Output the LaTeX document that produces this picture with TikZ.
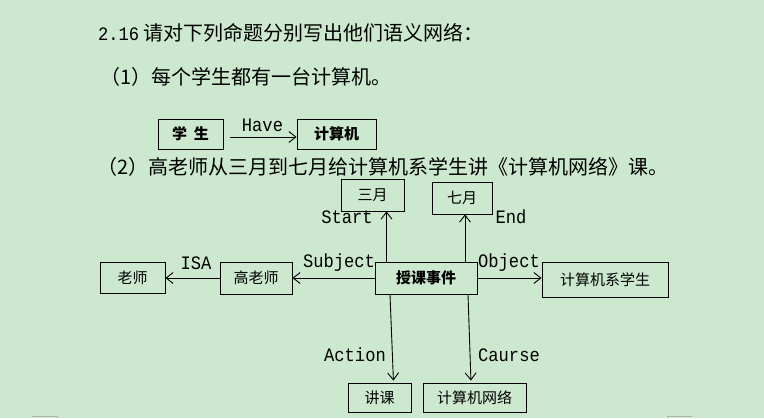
\documentclass[tikz,border=0pt]{standalone}
\usepackage{fontspec}
\setmainfont{Noto Sans CJK SC}
\newfontfamily\mono{Liberation Mono}
\usetikzlibrary{arrows.meta}
\definecolor{paper}{RGB}{204,232,207}
\newcommand{\narrow}[1]{\scalebox{0.9}[1]{#1}}

\begin{document}
\begin{tikzpicture}[x=1pt, y=-1pt,
        box/.style={rectangle, draw=black, line width=0.9pt, minimum height=30pt, inner sep=0pt, font=\fontsize{15}{15}\selectfont},
        boldbox/.style={box, font=\fontsize{15}{15}\selectfont\bfseries},
        rel/.style={font=\mono\fontsize{19}{19}\selectfont, inner sep=0pt},
        link/.style={-{Straight Barb[length=7pt,width=11pt]}, line width=0.9pt},
        textline/.style={font=\fontsize{20}{20}\selectfont, anchor=west, inner sep=0pt}
    ]
        % Page background
        \fill[paper] (0,0) rectangle (764,418);
        \draw[gray!60] (32,416) -- (57,416) -- (57,418);
        \draw[gray!60] (692,416) -- (667,416) -- (667,418);

        % Title and question (1)
        \node[textline] (title) at (98,33) {{\mono\fontsize{19}{19}\selectfont\narrow{2.16}} 请对下列命题分别写出他们语义网络：};
        \node[textline] (q1) at (100,77) {（1）每个学生都有一台计算机。};

        \node[boldbox, minimum width=65pt] (xuesheng) at (190.5,134) {学\hspace{7pt}生};
        \node[boldbox, minimum width=79pt] (jisuanji) at (336.5,134) {计算机};
        \draw[link, shorten <=7pt] ([yshift=-3pt]xuesheng.east) -- ([yshift=-3pt]jisuanji.west);
        \node[rel] (have) at (262.5,125) {\narrow{Have}};

        % Question (2)
        \node[textline] (q2) at (97,167) {（2）高老师从三月到七月给计算机系学生讲《计算机网络》课。};

        \node[box, minimum width=63pt, minimum height=32pt] (sanyue) at (372.5,195) {三月};
        \node[box, minimum width=60pt, minimum height=32pt] (qiyue) at (462,198) {七月};
        \node[box, minimum width=65pt, minimum height=31pt] (laoshi) at (132.5,278) {老师};
        \node[box, minimum width=72pt, minimum height=32pt] (gao) at (256,278) {高老师};
        \node[boldbox, minimum width=102pt, minimum height=32pt] (shouke) at (426,278) {授课事件};
        \node[box, minimum width=126pt, minimum height=35pt] (xisheng) at (605,279.5) {计算机系学生};
        \node[box, minimum width=63pt, minimum height=29pt] (jiangke) at (379.5,397.5) {讲课};
        \node[box, minimum width=103pt, minimum height=29pt] (wangluo) at (474.5,397.5) {计算机网络};

        % Relations
        \draw[link] ([xshift=-39.5pt]shouke.north) -- ([xshift=-39.5pt]shouke.north |- sanyue.south);
        \draw[link] ([xshift=39pt]shouke.north) -- ([xshift=39pt]shouke.north |- qiyue.south);
        \draw[link] (shouke.west) -- (gao.east);
        \draw[link] (gao.west) -- (laoshi.east);
        \draw[link] (shouke.east) -- (shouke.east -| xisheng.west);
        \draw[link, shorten >=2pt] ([xshift=-36pt]shouke.south) -- ([xshift=14pt]jiangke.north);
        \draw[link, shorten >=2pt] ([xshift=42pt]shouke.south) -- ([xshift=-3.5pt]wangluo.north);

        \node[rel] (start) at (347,217) {\narrow{Start}};
        \node[rel] (end) at (511,217) {\narrow{End}};
        \node[rel] (isa) at (196,263) {\narrow{ISA}};
        \node[rel] (subject) at (339,263) {\narrow{Subject}};
        \node[rel] (object) at (509,263) {\narrow{Object}};
        \node[rel] (action) at (355,355) {\narrow{Action}};
        \node[rel] (caurse) at (509,355) {\narrow{Caurse}};
    \end{tikzpicture}
\end{document}
